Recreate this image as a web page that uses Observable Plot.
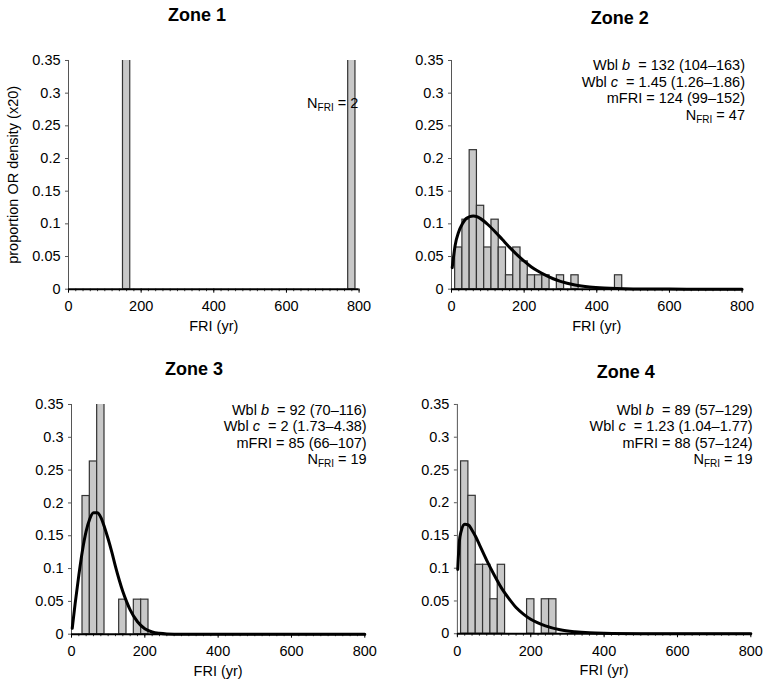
<!DOCTYPE html>
<html>
<head>
<meta charset="utf-8">
<script src="https://cdn.jsdelivr.net/npm/d3@7"></script>
<script src="https://cdn.jsdelivr.net/npm/@observablehq/plot@0.6"></script>
<style>
  html, body { margin: 0; padding: 0; background: #fff; }
  #root { position: relative; width: 765px; height: 686px; overflow: hidden; font-family: "Liberation Sans", Arial, Helvetica, sans-serif; color: #000; }
  .panel { position: absolute; }
  .title { position: absolute; transform: translate(-50%, -50%); font-weight: bold; font-size: 18px; white-space: nowrap; }
  .ann { position: absolute; transform: translateX(-100%); text-align: right; font-size: 14.5px; line-height: 16.5px; white-space: nowrap; }
  .ann sub { font-size: 10px; line-height: 0; vertical-align: -3px; }
</style>
</head>
<body>
<div id="root"></div>
<script>
// ---------- data ----------
const binWidth = 20;
const xTicks = [0, 200, 400, 600, 800];
const yTicks = [0, 0.05, 0.1, 0.15, 0.2, 0.25, 0.3, 0.35];
const zoneTitles = ["Zone 1", "Zone 2", "Zone 3", "Zone 4"];
const yAxisLabel = "proportion OR density (x20)";
const xAxisLabel = "FRI (yr)";

// histogram bins (bin centre, number of fire intervals)
const zone1Centers = [160, 780];
const zone1Counts  = [1, 1];
const zone1N = 2;

const zone2Centers = [20, 40, 60, 80, 100, 120, 140, 160, 180, 200, 220, 240, 260, 300, 340, 460];
const zone2Counts  = [3, 5, 10, 6, 3, 5, 3, 1, 3, 2, 1, 1, 1, 1, 1, 1];
const zone2N = 47;

const zone3Centers = [40, 60, 80, 140, 180, 200];
const zone3Counts  = [4, 5, 7, 1, 1, 1];
const zone3N = 19;

const zone4Centers = [20, 40, 60, 80, 100, 120, 200, 240, 260];
const zone4Counts  = [5, 4, 2, 2, 1, 2, 1, 1, 1];
const zone4N = 19;

// fitted Weibull density curves (x20)
const zone2CurveX = [2, 10, 20, 30, 40, 50, 60, 70, 80, 100, 120, 140, 160, 180, 200, 220, 240, 260, 280, 300, 340, 380, 420, 500, 600, 700, 800];
const zone2CurveY = [0.033, 0.067, 0.088, 0.100, 0.108, 0.111, 0.112, 0.111, 0.108, 0.099, 0.088, 0.076, 0.064, 0.053, 0.043, 0.034, 0.027, 0.021, 0.016, 0.012, 0.0065, 0.0034, 0.0017, 0.0004, 0.0001, 0, 0];

const zone3CurveX = [2, 10, 20, 30, 40, 50, 60, 70, 80, 90, 100, 110, 120, 130, 140, 150, 160, 180, 200, 220, 240, 260, 300, 400, 600, 800];
const zone3CurveY = [0.009, 0.047, 0.090, 0.128, 0.157, 0.176, 0.185, 0.185, 0.178, 0.163, 0.145, 0.125, 0.103, 0.083, 0.065, 0.050, 0.037, 0.019, 0.0084, 0.0034, 0.0013, 0.0004, 0, 0, 0, 0];

const zone4CurveX = [1, 5, 10, 20, 30, 40, 50, 60, 80, 100, 120, 140, 160, 180, 200, 240, 280, 320, 360, 400, 500, 600, 800];
const zone4CurveY = [0.098, 0.139, 0.156, 0.167, 0.166, 0.158, 0.148, 0.136, 0.112, 0.090, 0.070, 0.054, 0.040, 0.030, 0.022, 0.012, 0.006, 0.003, 0.0014, 0.0007, 0.0001, 0, 0];

// annotation texts
const zone2Ann = [["b", "132 (104–163)"], ["c", "1.45 (1.26–1.86)"], "mFRI = 124 (99–152)"];
const zone3Ann = [["b", "92 (70–116)"], ["c", "2 (1.73–4.38)"], "mFRI = 85 (66–107)"];
const zone4Ann = [["b", "89 (57–129)"], ["c", "1.23 (1.04–1.77)"], "mFRI = 88 (57–124)"];

// ---------- layout ----------
const ML = 60, MR = 15, MT = 20, MB = 50;
// frameTop = pixel row of y = 0.35
const layouts = [
  {axisLeft: 67.7,  frameW: 290.6, frameTop: 60,    frameH: 228.7, titleX: 197,   titleY: 15,  annRight: 358.3, annTop: 94.5},
  {axisLeft: 450.7, frameW: 290.6, frameTop: 60,    frameH: 228.7, titleX: 619.7, titleY: 18,  annRight: 745,   annTop: 57},
  {axisLeft: 71,    frameW: 293.3, frameTop: 404.3, frameH: 229.7, titleX: 194,   titleY: 369, annRight: 366.7, annTop: 401.5},
  {axisLeft: 456.7, frameW: 294,   frameTop: 404.3, frameH: 229.7, titleX: 625.7, titleY: 372, annRight: 752.7, annTop: 401.5}
];

const zones = [
  {centers: zone1Centers, counts: zone1Counts, n: zone1N, cx: null, cy: null, ann: []},
  {centers: zone2Centers, counts: zone2Counts, n: zone2N, cx: zone2CurveX, cy: zone2CurveY, ann: zone2Ann},
  {centers: zone3Centers, counts: zone3Counts, n: zone3N, cx: zone3CurveX, cy: zone3CurveY, ann: zone3Ann},
  {centers: zone4Centers, counts: zone4Counts, n: zone4N, cx: zone4CurveX, cy: zone4CurveY, ann: zone4Ann}
];

const root = document.getElementById("root");
const minorTicks = d3.range(0, 801, 20);

zones.forEach((z, i) => {
  const L = layouts[i];
  const bars = z.centers.map((c, k) => ({x1: c - binWidth / 2, x2: c + binWidth / 2, p: z.counts[k] / z.n}));
  const curve = z.cx ? z.cx.map((x, k) => ({x, y: z.cy[k]})) : [];
  const width = ML + L.frameW + MR;
  const height = MT + L.frameH + MB;

  const chart = Plot.plot({
    width, height,
    marginLeft: ML, marginRight: MR, marginTop: MT, marginBottom: MB,
    x: {domain: [0, 800]},
    y: {domain: [0, 0.35]},
    style: {fontFamily: '"Liberation Sans", Arial, Helvetica, sans-serif', fontSize: "14px", background: "transparent", overflow: "visible", color: "#000"},
    marks: [
      Plot.rectY(bars, {x1: "x1", x2: "x2", y: "p", fill: "#c8c8c8", stroke: "#333", strokeWidth: 1.2, clip: true}),
      Plot.ruleX([0], {stroke: "#555", strokeWidth: 1}),
      Plot.axisY({ticks: yTicks, tickSize: 3, tickPadding: 5, tickFormat: d => String(d), label: null, fontSize: 14.5, stroke: "#555"}),
      Plot.axisX({ticks: minorTicks, tickSize: 2.5, tickFormat: () => "", label: null, stroke: "#333"}),
      Plot.axisX({ticks: xTicks, tickSize: 4, tickPadding: 8, tickFormat: d => String(d), label: null, fontSize: 14.5}),
      Plot.ruleY([0], {stroke: "#000", strokeWidth: 2}),
      Plot.line(curve, {x: "x", y: "y", stroke: "#000", strokeWidth: 3, curve: "monotone-x"}),
      Plot.text([xAxisLabel], {frameAnchor: "bottom", lineAnchor: "middle", textAnchor: "middle", dy: 37, fontSize: 14.5}),
      i === 0 ? Plot.text([yAxisLabel], {frameAnchor: "left", textAnchor: "middle", lineAnchor: "middle", dx: -55, rotate: -90, fontSize: 14.5}) : null
    ]
  });

  const div = document.createElement("div");
  div.className = "panel";
  div.style.left = (L.axisLeft - ML) + "px";
  div.style.top = (L.frameTop - MT) + "px";
  div.appendChild(chart);
  root.appendChild(div);

  const t = document.createElement("div");
  t.className = "title";
  t.style.left = L.titleX + "px";
  t.style.top = L.titleY + "px";
  t.textContent = zoneTitles[i];
  root.appendChild(t);

  const a = document.createElement("div");
  a.className = "ann";
  a.style.left = L.annRight + "px";
  a.style.top = L.annTop + "px";
  let html = "";
  z.ann.forEach(line => {
    if (Array.isArray(line)) html += `<div>Wbl <i>${line[0]}</i>&nbsp; = ${line[1]}</div>`;
    else html += `<div>${line}</div>`;
  });
  html += `<div>N<sub>FRI</sub> = ${z.n}</div>`;
  a.innerHTML = html;
  root.appendChild(a);
});
</script>
</body>
</html>
